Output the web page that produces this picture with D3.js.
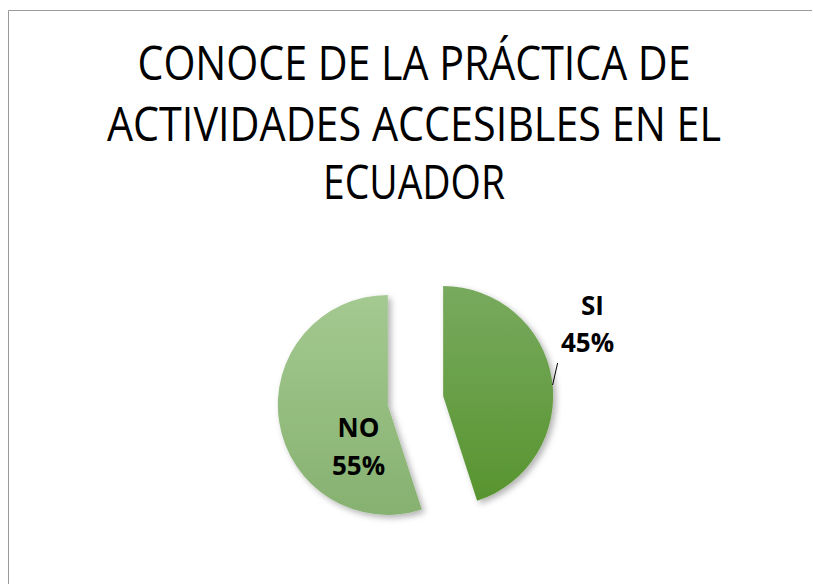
<!DOCTYPE html>
<head>
<meta charset='utf-8'>
<style>
  body { margin: 0; background: #fff; }
  svg { display: block; }
  .title { font-family: 'Open Sans', sans-serif; font-size: 47px; fill: #000; }
  .lbl { font-family: 'Open Sans', sans-serif; font-weight: bold; font-size: 26px; fill: #000; }
</style>
</head>
<body>
<div id='vis'></div>
<script src='https://d3js.org/d3.v7.min.js'></script>
<script>
  const categories = ['SI', 'NO']
  const values = [45, 55]
  const titleLines = ['CONOCE DE LA PRÁCTICA DE', 'ACTIVIDADES ACCESIBLES EN EL', 'ECUADOR']

  const width = 813, height = 584
  const cx = 415.5, cy = 400.5, radius = 110, explode = 28

  const svg = d3.select('#vis').append('svg')
    .attr('width', width)
    .attr('height', height)

  const defs = svg.append('defs')
  const grads = [['#78aa5e', '#58942f'], ['#a4c991', '#86b170']]
  grads.forEach((g, i) => {
    const lg = defs.append('linearGradient')
      .attr('id', 'grad' + i)
      .attr('x1', 0).attr('y1', 0).attr('x2', 0).attr('y2', 1)
    lg.append('stop').attr('offset', '0%').attr('stop-color', g[0])
    lg.append('stop').attr('offset', '100%').attr('stop-color', g[1])
  })
  defs.append('filter').attr('id', 'shadow')
    .attr('x', '-20%').attr('y', '-20%').attr('width', '140%').attr('height', '140%')
    .append('feDropShadow')
    .attr('dx', 3).attr('dy', 3).attr('stdDeviation', 3)
    .attr('flood-color', '#000').attr('flood-opacity', 0.3)

  // chart frame (top + left edges visible)
  svg.append('path')
    .attr('d', 'M8.5,584 V10.5 H812')
    .attr('fill', 'none')
    .attr('stroke', '#9a9a9a')
    .attr('stroke-width', 1)

  // title
  const titleBase = [80, 141, 199]
  const titleWidths = [553, 614, 182]
  svg.selectAll('.title')
    .data(titleLines)
    .enter()
    .append('text')
    .attr('class', 'title')
    .attr('x', 414)
    .attr('y', (d, i) => titleBase[i])
    .attr('text-anchor', 'middle')
    .attr('textLength', (d, i) => titleWidths[i])
    .attr('lengthAdjust', 'spacingAndGlyphs')
    .text(d => d)

  const pie = d3.pie().sort(null).value(d => d)
  const arc = d3.arc().innerRadius(0).outerRadius(radius)
  const arcs = pie(values)

  const offset = d => {
    const a = (d.startAngle + d.endAngle) / 2
    return [explode * Math.sin(a), -explode * Math.cos(a)]
  }

  const g = svg.append('g').attr('transform', `translate(${cx},${cy})`)

  g.selectAll('.slice')
    .data(arcs)
    .enter()
    .append('path')
    .attr('class', 'slice')
    .attr('transform', d => `translate(${offset(d)})`)
    .attr('d', arc)
    .attr('fill', (d, i) => `url(#grad${i})`)
    .attr('filter', 'url(#shadow)')

  // labels
  const lblPos = [[175, -86, -49], [-57, 36, 74]] // x, baseline1, baseline2 rel. to center
  const lbl = g.selectAll('.lblg')
    .data(arcs)
    .enter()
    .append('g')
  lbl.append('text')
    .attr('class', 'lbl')
    .attr('text-anchor', 'middle')
    .attr('x', (d, i) => lblPos[i][0] + (i === 0 ? 2 : 0))
    .attr('y', (d, i) => lblPos[i][1])
    .text((d, i) => categories[i])
  lbl.append('text')
    .attr('class', 'lbl')
    .attr('text-anchor', 'middle')
    .attr('x', (d, i) => lblPos[i][0] - (i === 0 ? 3 : 0))
    .attr('y', (d, i) => lblPos[i][2])
    .text((d, i) => Math.round(d.data / d3.sum(values) * 100) + '%')

  // leader line for SI
  const si = arcs[0]
  const siOff = offset(si)
  const la = 1.47
  const p0 = [siOff[0] + radius * Math.sin(la), siOff[1] - radius * Math.cos(la)]
  g.append('line')
    .attr('x1', p0[0]).attr('y1', p0[1])
    .attr('x2', p0[0] + 5).attr('y2', p0[1] - 22)
    .attr('stroke', '#000')
    .attr('stroke-width', 1)
</script>
</body>
